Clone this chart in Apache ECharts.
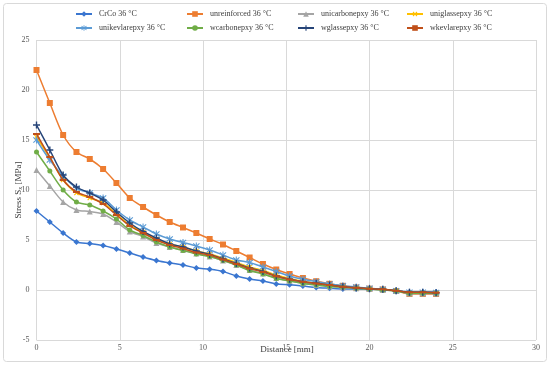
<!DOCTYPE html>
<html>
<head>
<meta charset="utf-8">
<script src="https://cdn.jsdelivr.net/npm/echarts@6/dist/echarts.min.js"></script>
<style>html,body{margin:0;padding:0;background:#fff;}#c{width:550px;height:367px;}</style>
</head>
<body>
<div id="c"></div>
<script>
// x positions (mm)
const distance = [0,0.8,1.6,2.4,3.2,4.0,4.8,5.6,6.4,7.2,8.0,8.8,9.6,10.4,11.2,12.0,12.8,13.6,14.4,15.2,16.0,16.8,17.6,18.4,19.2,20.0,20.8,21.6,22.4,23.2,24.0];
const seriesNames = ['CrCo 36 °C','unreinforced 36 °C','unicarbonepxy 36 °C','uniglassepxy 36 °C','unikevlarepxy 36 °C','wcarbonepxy 36 °C','wglassepxy 36 °C','wkevlarepxy 36 °C'];
const crco = [7.9,6.8,5.7,4.8,4.65,4.45,4.1,3.7,3.3,2.95,2.7,2.5,2.2,2.07,1.85,1.4,1.1,0.9,0.6,0.52,0.4,0.25,0.17,0.1,0.1,0.07,0.05,-0.07,-0.2,-0.2,-0.2];
const unreinforced = [22.0,18.7,15.5,13.8,13.1,12.1,10.7,9.2,8.3,7.5,6.8,6.25,5.7,5.1,4.55,3.9,3.25,2.6,2.05,1.6,1.2,0.88,0.62,0.42,0.25,0.13,0.05,-0.1,-0.4,-0.4,-0.4];
const unicarbon = [12.0,10.4,8.8,8.0,7.85,7.6,6.8,5.85,5.35,4.7,4.3,4.0,3.65,3.35,2.95,2.5,2.0,1.65,1.2,0.92,0.68,0.5,0.37,0.28,0.18,0.1,0.02,-0.1,-0.35,-0.35,-0.35];
const uniglass = [15.3,13.2,11.0,9.7,9.2,8.7,7.6,6.5,5.8,5.1,4.6,4.3,3.9,3.6,3.2,2.75,2.3,1.95,1.5,1.15,0.88,0.68,0.52,0.35,0.24,0.14,0.07,-0.07,-0.25,-0.25,-0.28];
const unikevlar = [15.0,13.0,11.4,10.2,9.7,9.2,8.0,7.0,6.3,5.6,5.1,4.75,4.4,4.0,3.5,3.0,2.75,2.3,1.85,1.4,1.07,0.83,0.6,0.43,0.3,0.17,0.07,-0.07,-0.23,-0.23,-0.25];
const wcarbon = [13.8,11.9,10.0,8.8,8.5,7.9,7.1,6.0,5.45,4.8,4.3,3.95,3.6,3.35,2.95,2.5,1.95,1.6,1.15,0.9,0.65,0.5,0.35,0.27,0.17,0.1,0.0,-0.1,-0.33,-0.33,-0.33];
const wglass = [16.5,14.0,11.5,10.3,9.7,9.0,7.8,6.7,5.85,5.2,4.6,4.3,3.9,3.55,3.1,2.65,2.2,1.85,1.4,1.07,0.83,0.67,0.5,0.33,0.23,0.13,0.07,-0.07,-0.23,-0.23,-0.27];
const wkevlar = [15.6,13.3,11.0,9.8,9.3,8.6,7.5,6.4,5.7,5.0,4.5,4.15,3.75,3.5,3.05,2.6,2.15,1.8,1.38,1.05,0.82,0.65,0.5,0.33,0.23,0.13,0.07,-0.07,-0.23,-0.23,-0.27];
const xTicks = [0,5,10,15,20,25,30];
const yTicks = [-5,0,5,10,15,20,25];
const xTitle = 'Distance [mm]';

const values = [crco,unreinforced,unicarbon,uniglass,unikevlar,wcarbon,wglass,wkevlar];
const colors = ['#3A76D0','#ED7D31','#A5A5A5','#FFC000','#5B9BD5','#70AD47','#264478','#C0501A'];
const plus = 'path://M4,0H6V4H10V6H6V10H4V6H0V4H4Z';
const star = 'path://M4.3,0H5.7V3.6L8.6,0.8L9.6,1.8L6.4,5L9.6,8.2L8.6,9.2L5.7,6.4V10H4.3V6.4L1.4,9.2L0.4,8.2L3.6,5L0.4,1.8L1.4,0.8L4.3,3.6Z';
const dash = 'path://M0,0H10V3H0Z';
const symbols = ['diamond','rect','triangle',plus,star,'circle',plus,dash];
const symSizes = [6,6,6,6,7,5,7,[7,2]];
const symRot = [0,0,0,45,0,0,0,0];

const legendPos = [[75,10],[186,10],[297,10],[406,10],[75,24],[186,24],[297,24],[406,24]];

const chart = echarts.init(document.getElementById('c'), null, {renderer:'canvas'});
const font = '"Liberation Serif", "Times New Roman", serif';
const option = {
  animation:false,
  graphic:[
    {type:'rect',shape:{x:3.5,y:3.5,width:543,height:358,r:3},style:{fill:'none',stroke:'#D9D9D9',lineWidth:1},z:-1},
    {type:'text',x:287,y:350,style:{text:xTitle,font:'9px '+font,fill:'#404040',align:'center',verticalAlign:'middle'}}
  ],
  legend: seriesNames.map((n,i)=>({
    data:[n], left:legendPos[i][0], top:legendPos[i][1], itemWidth:16, itemHeight:7, itemGap:0,
    textStyle:{fontFamily:font,fontSize:8,color:'#404040',padding:[0,0,0,2]}, padding:0
  })),
  grid:{left:36.5,right:14,top:40,bottom:27,outerBoundsMode:'none',containLabel:false},
  xAxis:{type:'value',min:0,max:30,interval:5,
    axisLine:{show:true,onZero:true,lineStyle:{color:'#D9D9D9'}},
    axisTick:{show:false},
    axisLabel:{fontFamily:font,fontSize:8,color:'#595959',margin:4,formatter:v=>xTicks.includes(v)?String(v):''},
    splitLine:{show:true,lineStyle:{color:'#D9D9D9'}}},
  yAxis:{type:'value',min:-5,max:25,interval:5,
    name:'{a|Stress S}{b|x}{a| [MPa]}',nameLocation:'middle',nameGap:13,nameRotate:90,nameMoveOverlap:false,
    nameTextStyle:{rich:{a:{fontFamily:font,fontSize:9,color:'#404040'},b:{fontFamily:font,fontSize:6,color:'#404040',verticalAlign:'bottom',padding:[4,0,0,0]}}},
    axisLine:{show:false},axisTick:{show:false},
    axisLabel:{fontFamily:font,fontSize:8,color:'#595959',margin:7,formatter:v=>yTicks.includes(v)?String(v):''},
    splitLine:{show:true,lineStyle:{color:'#D9D9D9'}}},
  series: seriesNames.map((n,i)=>({
    name:n,type:'line',smooth:0.3,
    data:distance.map((x,k)=>[x,values[i][k]]),
    symbol:symbols[i],symbolSize:symSizes[i],symbolRotate:symRot[i],showAllSymbol:true,
    lineStyle:{color:colors[i],width:1.5},
    itemStyle:{color:colors[i],borderColor:colors[i],borderWidth:0},
    z:2+i
  }))
};
chart.setOption(option);
</script>
</body>
</html>
